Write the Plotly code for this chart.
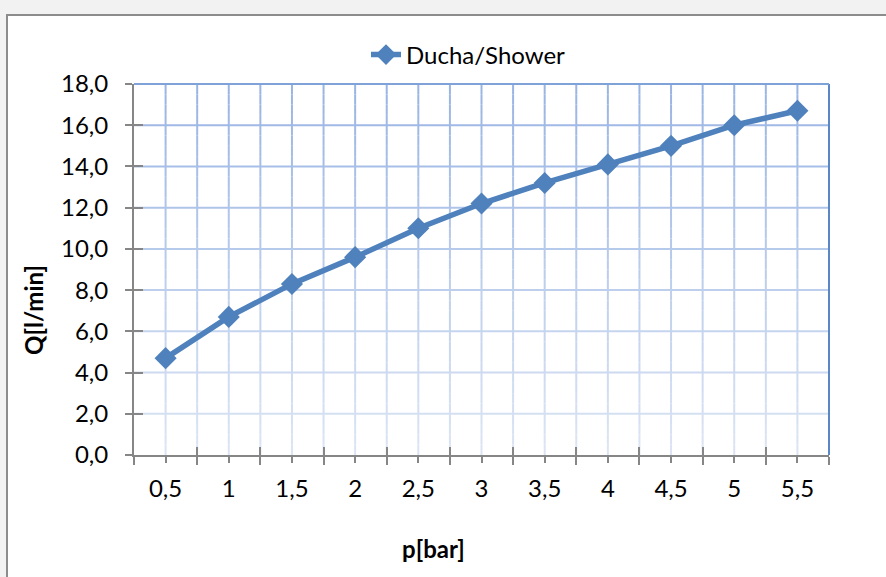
import plotly.graph_objects as go

# Data
p_bar = [0.5, 1.0, 1.5, 2.0, 2.5, 3.0, 3.5, 4.0, 4.5, 5.0, 5.5]
p_labels = ["0,5", "1", "1,5", "2", "2,5", "3", "3,5", "4", "4,5", "5", "5,5"]
q_lmin = [4.7, 6.7, 8.3, 9.6, 11.0, 12.2, 13.2, 14.1, 15.0, 16.0, 16.7]
y_ticks = [0, 2, 4, 6, 8, 10, 12, 14, 16, 18]
series_name = "Ducha/Shower"

W, H = 886, 577
ML, MR, MT, MB = 134, 57, 84, 122
PW, PH = W - ML - MR, H - MT - MB

def px_x(v):
    return (v - ML) / PW

def px_y(v):
    return (H - MB - v) / PH

half = (p_bar[1] - p_bar[0]) / 2
bounds = [p_bar[0] - half] + [v + half for v in p_bar]
xr = [bounds[0], bounds[-1]]
yr = [y_ticks[0], y_ticks[-1]]

FONT = "Lato"
FS = 24
BLUE = "#4F81BD"
AX = "#868686"
GRID_TOP = (0x98, 0xB4, 0xE4)
GRID_BOT = (0xDC, 0xE5, 0xF4)

def grid_col(f):
    c = [round(b + (t - b) * f) for t, b in zip(GRID_TOP, GRID_BOT)]
    return "rgb(%d,%d,%d)" % tuple(c)

fig = go.Figure()
fig.add_trace(go.Scatter(
    x=p_bar, y=q_lmin, name=series_name, mode="lines+markers",
    line=dict(color=BLUE, width=5.5),
    marker=dict(symbol="diamond", size=17, color=BLUE),
))
# helper trace to carry the overlay axes (crossing tick marks)
fig.add_trace(go.Scatter(
    x=p_bar, y=q_lmin, xaxis="x2", yaxis="y2", mode="lines",
    line=dict(width=0, color="rgba(0,0,0,0)"), showlegend=False, hoverinfo="skip",
))

fig.update_layout(
    width=W, height=H,
    margin=dict(l=ML, r=MR, t=MT, b=MB),
    paper_bgcolor="#F2F2F2", plot_bgcolor="white",
    separators=",.",
    font=dict(family=FONT, size=FS, color="black"),
    showlegend=True,
    legend=dict(x=px_x(366), y=px_y(55), xanchor="left", yanchor="middle",
                orientation="h", bgcolor="rgba(0,0,0,0)",
                font=dict(family=FONT, size=FS, color="black")),
    xaxis=dict(
        range=xr, tickmode="array", tickvals=p_bar, ticktext=p_labels,
        showgrid=False,
        ticks="outside", ticklen=6, tickwidth=2, tickcolor=AX,
        showline=True, linecolor=AX, linewidth=2,
        zeroline=False, ticklabelstandoff=5,
        minor=dict(tickmode="array", tickvals=bounds, ticks="outside", ticklen=8,
                   tickwidth=2, tickcolor=AX, showgrid=False),
    ),
    xaxis2=dict(
        range=xr, overlaying="x", tickmode="array", tickvals=bounds,
        ticks="inside", ticklen=8, tickwidth=2, tickcolor=AX,
        showticklabels=False, showgrid=False, showline=False, zeroline=False,
    ),
    yaxis=dict(
        range=yr, tickmode="array", tickvals=y_ticks, tickformat=".1f",
        showgrid=False,
        ticks="outside", ticklen=7, tickwidth=2, tickcolor=AX,
        showline=True, linecolor=AX, linewidth=2,
        zeroline=False, ticklabelstandoff=12,
    ),
    yaxis2=dict(
        range=yr, overlaying="y", tickmode="array", tickvals=y_ticks,
        ticks="inside", ticklen=9, tickwidth=2, tickcolor=AX,
        showticklabels=False, showgrid=False, showline=False, zeroline=False,
    ),
)

# chart area box (white, gray border)
fig.add_shape(type="rect", xref="paper", yref="paper",
              x0=px_x(7), x1=px_x(900), y0=px_y(590), y1=px_y(15),
              fillcolor="white", line=dict(color="#8C8C8C", width=2), layer="below")

# gradient gridlines (fading toward the bottom)
span = yr[1] - yr[0]
for yv in y_ticks[1:-1]:
    fig.add_shape(type="line", xref="x", yref="y", x0=xr[0], x1=xr[1], y0=yv, y1=yv,
                  line=dict(color=grid_col((yv - yr[0]) / span), width=2), layer="below")
n_seg = 36
seg = span / n_seg
vlines = sorted(set(p_bar + bounds[1:-1]))
for xv in vlines:
    for k in range(n_seg):
        y0 = yr[0] + k * seg
        fig.add_shape(type="line", xref="x", yref="y", x0=xv, x1=xv, y0=y0, y1=y0 + seg,
                      line=dict(color=grid_col((y0 + seg / 2 - yr[0]) / span), width=2),
                      layer="below")

# plot area right / top border
fig.add_shape(type="line", xref="paper", yref="paper", x0=1, x1=1, y0=0, y1=1,
              line=dict(color="#5A88C6", width=2))
fig.add_shape(type="line", xref="paper", yref="paper", x0=0, x1=1, y0=1, y1=1,
              line=dict(color="#7FA2D8", width=2))

fig.add_annotation(text="<b>Q[l/min]</b>", xref="paper", yref="paper",
                   x=px_x(33), y=px_y(310), xanchor="center", yanchor="middle",
                   textangle=-90, showarrow=False,
                   font=dict(family=FONT, size=FS, color="black"))
fig.add_annotation(text="<b>p[bar]</b>", xref="paper", yref="paper",
                   x=px_x(433), y=px_y(548), xanchor="center", yanchor="middle",
                   showarrow=False,
                   font=dict(family=FONT, size=FS, color="black"))

fig.write_html("out.html", config={"displayModeBar": False},
               post_script="document.body.style.margin='0';document.body.style.background='#F2F2F2';")
